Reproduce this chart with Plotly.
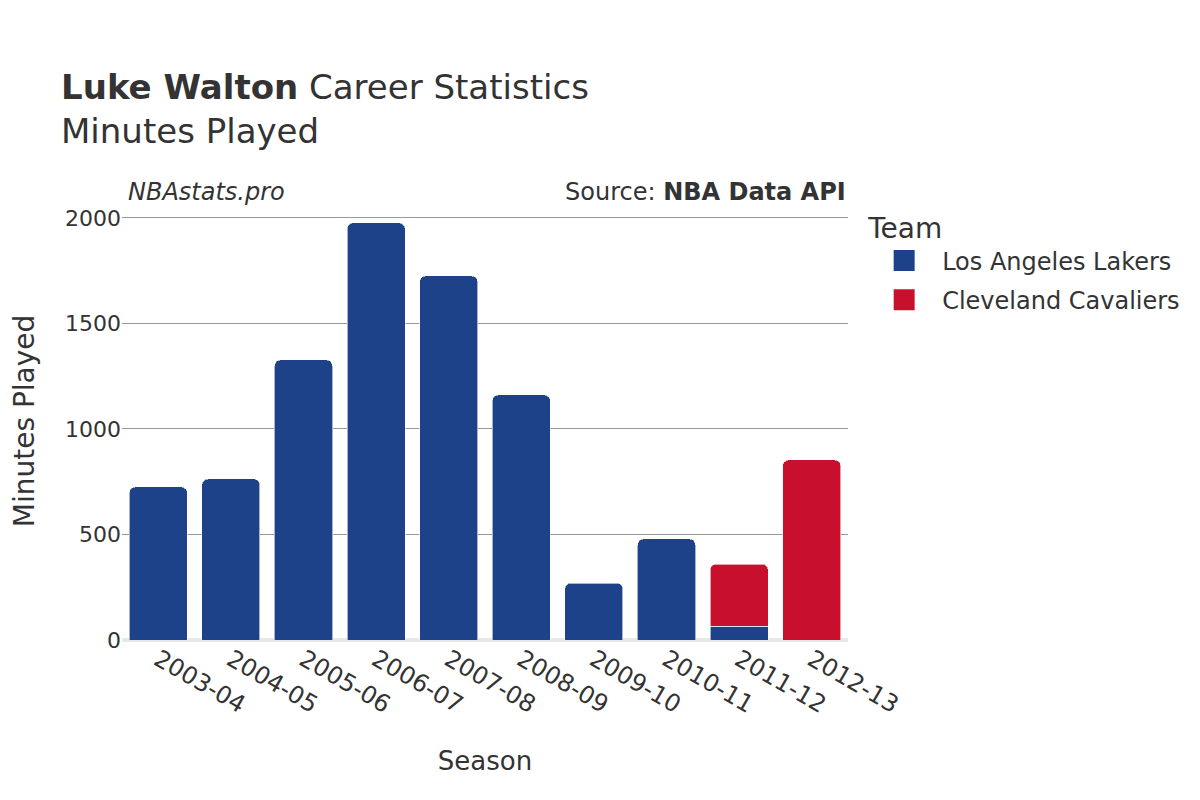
import plotly.graph_objects as go

seasons = ["2003-04", "2004-05", "2005-06", "2006-07", "2007-08",
           "2008-09", "2009-10", "2010-11", "2011-12", "2012-13"]
lakers = [725, 763, 1327, 1976, 1725, 1161, 270, 479, 66, None]
cavs = [None, None, None, None, None, None, None, None, 294, 853]

LAL = "#1D428A"
CLE = "#C8102E"
FONT = "DejaVu Sans"
fig = go.Figure()
fig.add_trace(go.Bar(x=seasons, y=lakers, name="Los Angeles Lakers", showlegend=False,
                     legendgroup="lal",
                     marker=dict(color=LAL, cornerradius=6,
                                 line=dict(color="rgba(255,255,255,0.6)", width=1))))
fig.add_trace(go.Bar(x=seasons, y=cavs, name="Cleveland Cavaliers", showlegend=False,
                     legendgroup="cle",
                     marker=dict(color=CLE, cornerradius=6,
                                 line=dict(color="rgba(255,255,255,0.6)", width=1))))
# legend entries
fig.add_trace(go.Scatter(x=[None], y=[None], mode="markers", name="Los Angeles Lakers",
                         legendgroup="lal",
                         marker=dict(symbol="square", size=16, color=LAL,
                                     line=dict(color=LAL, width=5))))
fig.add_trace(go.Scatter(x=[None], y=[None], mode="markers", name="Cleveland Cavaliers",
                         legendgroup="cle",
                         marker=dict(symbol="square", size=16, color=CLE,
                                     line=dict(color=CLE, width=5))))

fig.update_layout(
    barmode="stack",
    bargap=0.2,
    width=1200, height=800,
    paper_bgcolor="white", plot_bgcolor="white",
    font=dict(family=FONT, color="#333333", size=20),
    margin=dict(l=114, r=360, t=194, b=168, autoexpand=False),
    title=dict(text="<b>Luke Walton</b> Career Statistics<br>Minutes Played",
               x=0.0442, xanchor="left", y=0.886, yanchor="top",
               font=dict(size=34, family=FONT, color="#333333")),
    legend=dict(title=dict(text="Team", font=dict(size=28)),
                x=1.025, y=1.0, xanchor="left", yanchor="top",
                traceorder="grouped", itemwidth=66, tracegroupgap=5,
                font=dict(size=24), itemsizing="trace"),
    xaxis=dict(title=dict(text="Season", font=dict(size=26), standoff=34),
               type="category", automargin=True,
               tickangle=30, tickfont=dict(size=24), showgrid=False),
    yaxis=dict(title=dict(text="Minutes Played", font=dict(size=28), standoff=31),
               automargin=True,
               range=[0, 2075], tickvals=[0, 500, 1000, 1500, 2000],
               tickfont=dict(size=22),
               showgrid=True, gridcolor="#999999", gridwidth=1,
               ticks="",
               zeroline=True, zerolinecolor="#e8e8e8", zerolinewidth=4),
    annotations=[
        dict(text="<i>NBAstats.pro</i>", xref="paper", yref="paper",
             x=0.006, y=1.0, xanchor="left", yanchor="bottom", yshift=-6,
             showarrow=False, font=dict(size=24, family=FONT)),
        dict(text="Source: <b>NBA Data API</b>", xref="paper", yref="paper",
             x=1.0, y=1.0, xanchor="right", yanchor="bottom", yshift=-6,
             showarrow=False, font=dict(size=24, family=FONT)),
    ],
)

fig.write_html("out.html")
